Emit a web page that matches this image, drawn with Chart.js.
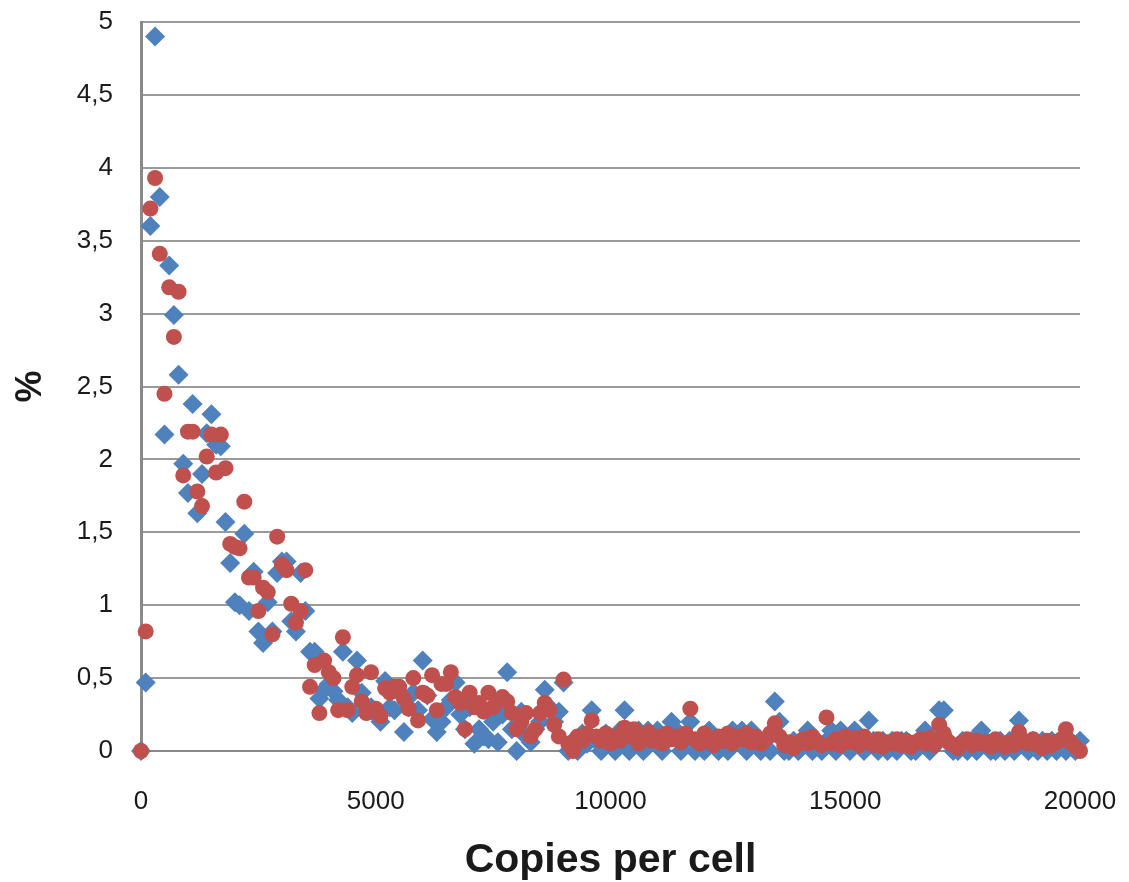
<!DOCTYPE html>
<html lang="en">
<head>
  <meta charset="UTF-8" />
  <title>Copies per cell</title>
  <script src="https://cdn.jsdelivr.net/npm/chart.js"></script>
  <style>
    body {
      margin: 0;
      padding: 0;
      background-color: #fff;
    }
    .wrap {
      width: 1129px;
      height: 882px;
      position: relative;
    }
  </style>
</head>
<body>
  <div class="wrap">
    <canvas id="scatterChart"></canvas>
  </div>
  <script>
    // x positions, one per 100 copies
    const copies = [
      0, 100, 200, 300, 400, 500, 600, 700, 800, 900,
      1000, 1100, 1200, 1300, 1400, 1500, 1600, 1700, 1800, 1900,
      2000, 2100, 2200, 2300, 2400, 2500, 2600, 2700, 2800, 2900,
      3000, 3100, 3200, 3300, 3400, 3500, 3600, 3700, 3800, 3900,
      4000, 4100, 4200, 4300, 4400, 4500, 4600, 4700, 4800, 4900,
      5000, 5100, 5200, 5300, 5400, 5500, 5600, 5700, 5800, 5900,
      6000, 6100, 6200, 6300, 6400, 6500, 6600, 6700, 6800, 6900,
      7000, 7100, 7200, 7300, 7400, 7500, 7600, 7700, 7800, 7900,
      8000, 8100, 8200, 8300, 8400, 8500, 8600, 8700, 8800, 8900,
      9000, 9100, 9200, 9300, 9400, 9500, 9600, 9700, 9800, 9900,
      10000, 10100, 10200, 10300, 10400, 10500, 10600, 10700, 10800, 10900,
      11000, 11100, 11200, 11300, 11400, 11500, 11600, 11700, 11800, 11900,
      12000, 12100, 12200, 12300, 12400, 12500, 12600, 12700, 12800, 12900,
      13000, 13100, 13200, 13300, 13400, 13500, 13600, 13700, 13800, 13900,
      14000, 14100, 14200, 14300, 14400, 14500, 14600, 14700, 14800, 14900,
      15000, 15100, 15200, 15300, 15400, 15500, 15600, 15700, 15800, 15900,
      16000, 16100, 16200, 16300, 16400, 16500, 16600, 16700, 16800, 16900,
      17000, 17100, 17200, 17300, 17400, 17500, 17600, 17700, 17800, 17900,
      18000, 18100, 18200, 18300, 18400, 18500, 18600, 18700, 18800, 18900,
      19000, 19100, 19200, 19300, 19400, 19500, 19600, 19700, 19800, 19900,
      20000
    ];

    // blue diamonds (%)
    const blueValues = [
      0, 0.47, 3.60, 4.90, 3.80, 2.17, 3.33, 2.99, 2.58, 1.97,
      1.77, 2.38, 1.63, 1.90, 2.18, 2.31, 2.10, 2.09, 1.57, 1.29,
      1.02, 1.00, 1.49, 0.96, 1.23, 0.82, 0.74, 1.02, 0.82, 1.22,
      1.30, 1.30, 0.89, 0.82, 1.22, 0.96, 0.68, 0.68, 0.36, 0.42,
      0.46, 0.41, 0.35, 0.68, 0.30, 0.26, 0.62, 0.40, 0.28, 0.30,
      0.25, 0.20, 0.48, 0.30, 0.28, 0.40, 0.13, 0.30, 0.40, 0.28,
      0.62, 0.38, 0.22, 0.13, 0.20, 0.30, 0.35, 0.47, 0.25, 0.15,
      0.30, 0.05, 0.15, 0.10, 0.08, 0.20, 0.06, 0.25, 0.54, 0.15,
      0.00, 0.27, 0.10, 0.06, 0.15, 0.20, 0.42, 0.30, 0.20, 0.27,
      0.47, 0.00, 0.07, 0.00, 0.12, 0.05, 0.28, 0.07, 0.00, 0.12,
      0.05, 0.00, 0.14, 0.28, 0.00, 0.07, 0.14, 0.00, 0.14, 0.07,
      0.14, 0.00, 0.07, 0.20, 0.14, 0.00, 0.07, 0.20, 0.00, 0.07,
      0.00, 0.14, 0.07, 0.00, 0.07, 0.00, 0.14, 0.07, 0.14, 0.00,
      0.14, 0.07, 0.00, 0.07, 0.00, 0.34, 0.20, 0.00, 0.00, 0.07,
      0.00, 0.07, 0.14, 0.00, 0.07, 0.00, 0.07, 0.14, 0.00, 0.14,
      0.07, 0.00, 0.14, 0.07, 0.00, 0.21, 0.07, 0.00, 0.07, 0.00,
      0.07, 0.00, 0.07, 0.07, 0.00, 0.00, 0.07, 0.14, 0.00, 0.07,
      0.28, 0.28, 0.07, 0.00, 0.00, 0.07, 0.00, 0.07, 0.00, 0.14,
      0.07, 0.00, 0.00, 0.07, 0.00, 0.07, 0.00, 0.21, 0.07, 0.00,
      0.07, 0.00, 0.07, 0.00, 0.07, 0.00, 0.07, 0.00, 0.07, 0.00,
      0.07
    ];

    // red circles (%)
    const redValues = [
      0, 0.82, 3.72, 3.93, 3.41, 2.45, 3.18, 2.84, 3.15, 1.89,
      2.19, 2.19, 1.78, 1.68, 2.02, 2.17, 1.91, 2.17, 1.94, 1.42,
      1.40, 1.39, 1.71, 1.19, 1.19, 0.96, 1.12, 1.09, 0.80, 1.47,
      1.28, 1.24, 1.01, 0.88, 0.96, 1.24, 0.44, 0.59, 0.26, 0.62,
      0.54, 0.50, 0.28, 0.78, 0.28, 0.44, 0.52, 0.34, 0.26, 0.54,
      0.29, 0.24, 0.43, 0.40, 0.44, 0.44, 0.36, 0.29, 0.50, 0.21,
      0.40, 0.38, 0.52, 0.28, 0.46, 0.46, 0.54, 0.37, 0.33, 0.15,
      0.40, 0.30, 0.33, 0.27, 0.40, 0.30, 0.34, 0.37, 0.34, 0.26,
      0.15, 0.20, 0.26, 0.10, 0.15, 0.26, 0.33, 0.28, 0.18, 0.10,
      0.49, 0.05, 0.00, 0.10, 0.07, 0.12, 0.21, 0.10, 0.07, 0.12,
      0.05, 0.10, 0.07, 0.16, 0.10, 0.15, 0.05, 0.10, 0.13, 0.07,
      0.10, 0.05, 0.12, 0.08, 0.10, 0.06, 0.12, 0.29, 0.08, 0.05,
      0.12, 0.08, 0.04, 0.10, 0.07, 0.12, 0.05, 0.10, 0.08, 0.12,
      0.06, 0.10, 0.05, 0.08, 0.12, 0.19, 0.10, 0.04, 0.06, 0.02,
      0.05, 0.08, 0.05, 0.10, 0.06, 0.04, 0.23, 0.05, 0.08, 0.04,
      0.10, 0.06, 0.09, 0.04, 0.10, 0.06, 0.04, 0.08, 0.03, 0.06,
      0.05, 0.08, 0.04, 0.07, 0.03, 0.06, 0.08, 0.05, 0.09, 0.04,
      0.18, 0.12, 0.06, 0.04, 0.02, 0.06, 0.08, 0.04, 0.07, 0.05,
      0.06, 0.03, 0.08, 0.05, 0.03, 0.06, 0.04, 0.13, 0.07, 0.05,
      0.08, 0.04, 0.02, 0.07, 0.04, 0.06, 0.08, 0.15, 0.06, 0.03,
      0.00
    ];

    const xTicks = [0, 5000, 10000, 15000, 20000];
    const yTicks = [0, 0.5, 1, 1.5, 2, 2.5, 3, 3.5, 4, 4.5, 5];

    const toPoints = vals => vals.map((v, i) => ({ x: copies[i], y: v }));

    const ctx = document.getElementById('scatterChart').getContext('2d');
    new Chart(ctx, {
      type: 'scatter',
      data: {
        datasets: [
          {
            label: 'red',
            data: toPoints(redValues),
            pointStyle: 'circle',
            pointRadius: 8,
            pointHoverRadius: 8,
            backgroundColor: '#C0504D',
            borderWidth: 0,
            clip: false
          },
          {
            label: 'blue',
            data: toPoints(blueValues),
            pointStyle: 'rectRot',
            pointRadius: 10,
            pointHoverRadius: 10,
            backgroundColor: '#4F81BD',
            borderWidth: 0,
            clip: false
          }
        ]
      },
      options: {
        responsive: true,
        maintainAspectRatio: false,
        animation: false,
        layout: { padding: { top: 22, right: 49, left: 0, bottom: 0 } },
        plugins: {
          legend: { display: false },
          tooltip: { enabled: false }
        },
        scales: {
          x: {
            type: 'linear',
            min: 0,
            max: 20000,
            afterFit: s => {
              s.height = 131;
              s.paddingLeft = 0;
              s.paddingRight = 0;
            },
            afterBuildTicks: s => { s.ticks = xTicks.map(v => ({ value: v })); },
            grid: { display: false, drawTicks: false },
            border: { display: true, color: '#8a8a8a', width: 2 },
            ticks: {
              padding: 35,
              color: '#1a1a1a',
              font: { family: 'Liberation Sans', size: 26 },
              callback: v => String(v)
            },
            title: {
              display: true,
              text: 'Copies per cell',
              color: '#1a1a1a',
              font: { family: 'Liberation Sans', size: 41, weight: 'bold', lineHeight: 1.05 },
              padding: { top: 0, bottom: 0 }
            }
          },
          y: {
            type: 'linear',
            min: 0,
            max: 5,
            afterFit: s => {
              s.width = 141;
              s.paddingTop = 0;
              s.paddingBottom = 0;
            },
            afterBuildTicks: s => { s.ticks = yTicks.map(v => ({ value: v })); },
            grid: { color: '#9a9a9a', lineWidth: 2, drawTicks: false },
            border: { display: true, color: '#8a8a8a', width: 3 },
            ticks: {
              padding: 28,
              color: '#1a1a1a',
              font: { family: 'Liberation Sans', size: 26 },
              callback: v => String(v).replace('.', ',')
            },
            title: {
              display: true,
              text: '%',
              color: '#1a1a1a',
              font: { family: 'Liberation Sans', size: 36, weight: 'bold' },
              padding: { top: 9, bottom: 0 }
            }
          }
        }
      }
    });
  </script>
</body>
</html>
